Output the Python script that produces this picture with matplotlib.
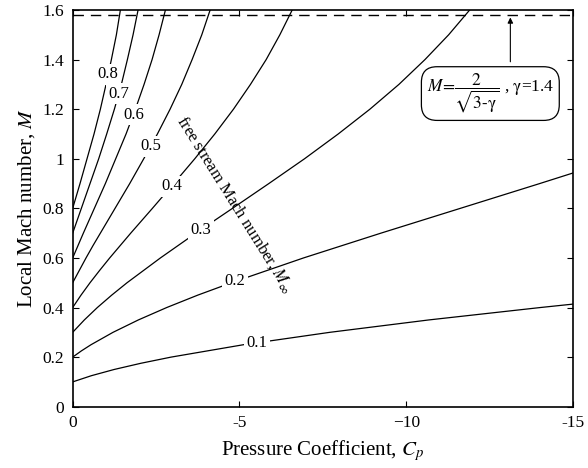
import numpy as np
import matplotlib
matplotlib.use("Agg")
import matplotlib.pyplot as plt

plt.rcParams["font.family"] = ["Liberation Serif", "DejaVu Serif"]
plt.rcParams["mathtext.fontset"] = "stix"

# free stream Mach numbers of the family of curves
mach_inf = [0.1, 0.2, 0.3, 0.4, 0.5, 0.6, 0.7, 0.8]

# local Mach number M and pressure coefficient Cp along each curve
m_01 = [0.10, 0.125, 0.15, 0.175, 0.20, 0.25, 0.30, 0.35, 0.40, 0.42]
cp_01 = [0, -0.56, -1.24, -2.04, -2.95, -5.12, -7.71, -10.68, -14.02, -15.44]

m_02 = [0.20, 0.225, 0.25, 0.30, 0.35, 0.40, 0.45, 0.50, 0.60, 0.70, 0.80, 0.90, 0.95]
cp_02 = [0, -0.26, -0.55, -1.21, -1.97, -2.82, -3.75, -4.76, -6.92, -9.24, -11.62, -14.00, -15.17]

m_03 = [0.30, 0.35, 0.40, 0.45, 0.50, 0.60, 0.70, 0.80, 0.90, 1.00, 1.10, 1.20, 1.30, 1.40, 1.50, 1.60]
cp_03 = [0, -0.35, -0.74, -1.17, -1.63, -2.63, -3.69, -4.79, -5.88, -6.95, -7.96, -8.91, -9.78, -10.56, -11.27, -11.90]

m_04 = [0.40, 0.45, 0.50, 0.55, 0.60, 0.70, 0.80, 0.90, 1.00, 1.10, 1.20, 1.30, 1.40, 1.50, 1.60]
cp_04 = [0, -0.25, -0.52, -0.81, -1.11, -1.74, -2.39, -3.03, -3.66, -4.26, -4.82, -5.33, -5.80, -6.21, -6.58]

m_05 = [0.50, 0.55, 0.60, 0.65, 0.70, 0.80, 0.90, 1.00, 1.10, 1.20, 1.30, 1.40, 1.50, 1.60]
cp_05 = [0, -0.20, -0.40, -0.61, -0.83, -1.27, -1.71, -2.13, -2.54, -2.92, -3.27, -3.58, -3.87, -4.12]

m_06 = [0.60, 0.70, 0.80, 0.90, 1.00, 1.10, 1.20, 1.30, 1.40, 1.50, 1.60]
cp_06 = [0, -0.32, -0.65, -0.98, -1.29, -1.60, -1.88, -2.14, -2.38, -2.59, -2.78]

m_07 = [0.70, 0.80, 0.90, 1.00, 1.10, 1.20, 1.30, 1.40, 1.50, 1.60]
cp_07 = [0, -0.26, -0.52, -0.78, -1.02, -1.25, -1.46, -1.64, -1.81, -1.96]

m_08 = [0.80, 0.90, 1.00, 1.10, 1.20, 1.30, 1.40, 1.50, 1.60]
cp_08 = [0, -0.22, -0.43, -0.64, -0.83, -1.00, -1.16, -1.31, -1.43]

curves = [(m_01, cp_01), (m_02, cp_02), (m_03, cp_03), (m_04, cp_04),
          (m_05, cp_05), (m_06, cp_06), (m_07, cp_07), (m_08, cp_08)]

# local Mach number where each curve carries its label
label_m = [0.258, 0.505, 0.714, 0.889, 1.05, 1.178, 1.262, 1.34]

gamma = 1.4
m_limit = 2 / np.sqrt(3 - gamma)

x_ticks = [0, -5, -10, -15]
x_ticklabels = ["0", "-5", "\u221210", "-15"]
y_ticks = [0, 0.2, 0.4, 0.6, 0.8, 1.0, 1.2, 1.4, 1.6]
y_ticklabels = ["0", "0.2", "0.4", "0.6", "0.8", "1", "1.2", "1.4", "1.6"]

fig = plt.figure(figsize=(5.88, 4.68), dpi=100)
ax = fig.add_axes([0.1236, 0.131, 0.851, 0.8476])

for (m, cp), minf, lm in zip(curves, mach_inf, label_m):
    ax.plot(cp, m, color="black", lw=0.9, zorder=2)
    x_lab = np.interp(lm, m, cp)
    ax.text(x_lab, lm, f"{minf:.1f}", fontsize=12, ha="center", va="center",
            zorder=3, bbox=dict(boxstyle="square,pad=0.15", fc="white", ec="none"))

ax.axhline(m_limit, color="black", lw=1.0, dashes=(7.5, 5), zorder=2)

ax.text(-4.87, 0.818, r"free stream Mach number, $M_\infty$", fontsize=12,
        rotation=-58, ha="center", va="center", rotation_mode="anchor")

ax.annotate("", xy=(-13.12, m_limit), xytext=(-13.12, 1.38),
            arrowprops=dict(arrowstyle="-|>", lw=0.8, color="black", mutation_scale=8))
ax.text(-12.52, 1.263, r"$M\!=\!\dfrac{2}{\sqrt{3\text{-}\mathrm{\gamma}}}$ , $\mathrm{\gamma}$=1.4",
        fontsize=12.5, ha="center", va="center",
        bbox=dict(boxstyle="round,pad=0.3,rounding_size=0.9", fc="white", ec="black", lw=0.9))

ax.set_xlim(0, -15)
ax.set_ylim(0, 1.6)
ax.set_xticks(x_ticks)
ax.set_xticklabels(x_ticklabels)
ax.set_yticks(y_ticks)
ax.set_yticklabels(y_ticklabels)
ax.tick_params(direction="in", top=True, right=True, length=4, width=0.8,
               labelsize=12.5, pad=6)
for sp in ax.spines.values():
    sp.set_linewidth(1.2)

ax.set_xlabel(r"Pressure Coefficient, $C_p$", fontsize=15, labelpad=5)
ax.set_ylabel(r"Local Mach number, $M$", fontsize=15, labelpad=4)

fig.savefig("out.png", dpi=100)
